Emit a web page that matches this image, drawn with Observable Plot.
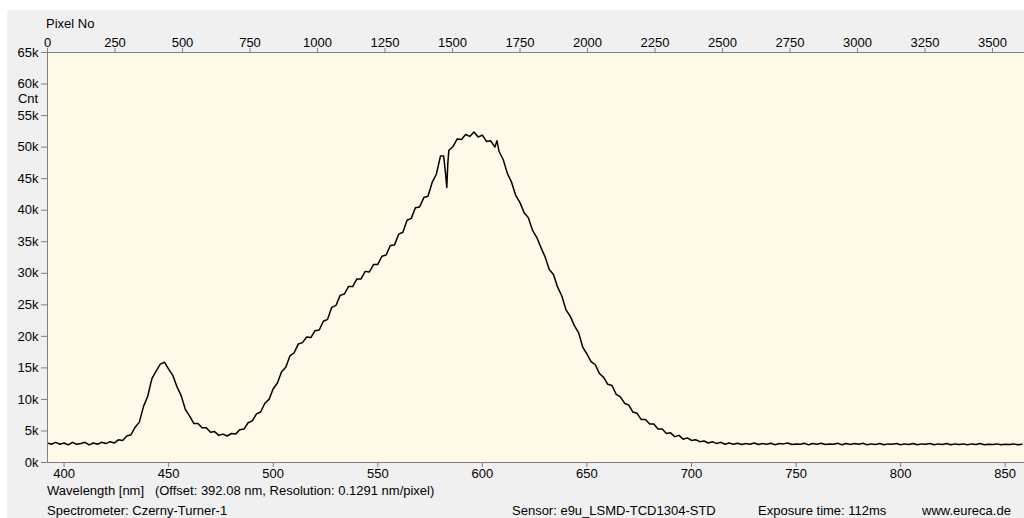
<!DOCTYPE html>
<html>
<head>
<meta charset="utf-8">
<script src="https://cdn.jsdelivr.net/npm/d3@7"></script>
<script src="https://cdn.jsdelivr.net/npm/@observablehq/plot@0.6"></script>
<style>
  html, body { margin: 0; padding: 0; background: #ffffff; }
  body { width: 1024px; height: 518px; overflow: hidden; position: relative; font-family: "Liberation Sans", Arial, sans-serif; }
  #panel { position: absolute; left: 7px; top: 10px; width: 1017px; height: 508px; background: #f0f0f0; }
  .lbl { position: absolute; font-size: 13px; color: #000; white-space: pre; line-height: 15px; }
  svg { position: absolute; left: 0; top: 0; }
</style>
</head>
<body>
<div id="panel"></div>
<script>
// Calibration of the spectrometer
const offsetNm = 392.08;
const resolutionNm = 0.1291;

// Tick labels
const pixelTicks = [0, 250, 500, 750, 1000, 1250, 1500, 1750, 2000, 2250, 2500, 2750, 3000, 3250, 3500];
const wavelengthTicks = [400, 450, 500, 550, 600, 650, 700, 750, 800, 850];
const countTicks = [0, 5000, 10000, 15000, 20000, 25000, 30000, 35000, 40000, 45000, 50000, 55000, 60000, 65000];

// Spectrum (wavelength in nm, counts in thousands)
const wavelengthNm = [
  392, 394, 396, 398, 400, 402, 404, 406, 408, 410, 412, 414, 416, 418, 420, 422, 424, 426, 428, 430,
  432, 434, 436, 438, 440, 442, 444, 446, 448, 450, 452, 454, 456, 458, 460, 462, 464, 466, 468, 470,
  472, 474, 476, 478, 480, 482, 484, 486, 488, 490, 492, 494, 496, 498, 500, 502, 504, 506, 508, 510,
  512, 514, 516, 518, 520, 522, 524, 526, 528, 530, 532, 534, 536, 538, 540, 542, 544, 546, 548, 550,
  552, 554, 556, 558, 560, 562, 564, 566, 568, 570, 572, 574, 576, 578, 580, 581.5, 582.5, 583, 583.5, 584,
  586, 588, 590, 592, 594, 596, 598, 600, 602, 604, 606, 607, 608, 610, 612, 614, 616, 618, 620, 622,
  624, 626, 628, 630, 632, 634, 636, 638, 640, 642, 644, 646, 648, 650, 652, 654, 656, 658, 660, 662,
  664, 666, 668, 670, 672, 674, 676, 678, 680, 682, 684, 686, 688, 690, 692, 694, 696, 698, 700, 702,
  704, 706, 708, 710, 712, 714, 716, 718, 720, 722, 724, 726, 728, 730, 732, 734, 736, 738, 740, 742,
  744, 746, 748, 750, 752, 754, 756, 758, 760, 762, 764, 766, 768, 770, 772, 774, 776, 778, 780, 782,
  784, 786, 788, 790, 792, 794, 796, 798, 800, 802, 804, 806, 808, 810, 812, 814, 816, 818, 820, 822,
  824, 826, 828, 830, 832, 834, 836, 838, 840, 842, 844, 846, 848, 850, 852, 854, 856, 858
];
const countsK = [
  3.1, 2.9, 3.2, 2.9, 3.1, 2.8, 3.2, 2.9, 3.0, 3.2, 2.8, 3.1, 2.9, 3.2, 3.0, 3.3, 3.1, 3.6, 3.5, 4.2,
  4.4, 5.6, 6.4, 8.9, 10.5, 13.3, 14.5, 15.6, 15.9, 14.8, 13.8, 12.0, 10.6, 8.4, 7.4, 6.2, 6.2, 5.5, 5.5, 4.8,
  4.9, 4.3, 4.5, 4.2, 4.6, 4.5, 5.2, 5.3, 6.3, 6.6, 7.7, 8.0, 9.4, 10.0, 11.7, 12.6, 14.4, 15.1, 16.9, 17.4,
  18.8, 19.0, 19.9, 19.8, 20.9, 21.0, 22.4, 22.7, 24.6, 24.9, 26.5, 26.7, 27.9, 27.9, 29.1, 29.1, 30.3, 30.2, 31.4, 31.4,
  32.7, 32.9, 34.4, 34.5, 36.2, 36.5, 38.4, 38.7, 40.4, 40.5, 42.0, 42.2, 44.4, 45.7, 48.6, 48.6, 45.5, 43.6, 47.5, 49.5,
  50.1, 51.3, 51.2, 52.0, 51.7, 52.4, 51.6, 51.9, 50.9, 51.0, 50.0, 51.0, 49.3, 48.0, 45.8, 44.4, 42.3, 41.2, 39.6, 38.8,
  36.8, 35.7, 34.1, 32.6, 30.6, 29.8, 27.8, 26.4, 24.2, 23.2, 21.7, 20.6, 18.3, 17.2, 16.0, 15.5, 14.1, 13.5, 12.4, 12.2,
  10.8, 10.4, 9.4, 9.1, 8.0, 7.8, 6.8, 6.8, 6.1, 6.1, 5.3, 5.3, 4.6, 4.7, 4.1, 4.3, 3.7, 3.9, 3.5, 3.6,
  3.3, 3.4, 3.1, 3.3, 3.0, 3.2, 2.9, 3.1, 2.9, 3.05, 2.85, 3.0, 2.9, 3.1, 2.85, 3.0, 2.9, 3.05, 2.8, 3.0,
  2.95, 3.1, 2.85, 2.95, 2.9, 3.05, 2.8, 3.0, 2.9, 3.05, 2.85, 2.95, 2.9, 3.05, 2.8, 3.0, 2.85, 3.0, 2.9, 3.05,
  2.8, 2.95, 2.85, 3.0, 2.8, 2.95, 2.9, 3.0, 2.8, 2.95, 2.85, 3.0, 2.8, 2.95, 2.9, 3.0, 2.8, 2.95, 2.85, 3.0,
  2.8, 2.95, 2.85, 2.95, 2.8, 2.95, 2.85, 3.0, 2.8, 2.9, 2.85, 2.95, 2.8, 2.9, 2.85, 2.95, 2.8, 2.9
];

const spectrum = wavelengthNm.map((w, i) => ({ nm: w, counts: countsK[i] * 1000 }));
const pixelToNm = p => offsetNm + resolutionNm * p;

const W = 1017, H = 470;
const mLeft = 40, mTop = 42, mBottom = H - (462 - 10);
const xMax = pixelToNm((W - mLeft) / 0.27);

const axisGray = "#7f7f7f";
const chart = Plot.plot({
  width: W,
  height: H,
  marginLeft: mLeft,
  marginRight: 0,
  marginTop: mTop,
  marginBottom: mBottom,
  style: { background: "transparent", fontFamily: "Liberation Sans, Arial, sans-serif", fontSize: "13px", color: "#000" },
  x: { type: "linear", domain: [offsetNm, xMax] },
  y: { type: "linear", domain: [0, 65000] },
  marks: [
    Plot.frame({ fill: "#fff9e7", stroke: null }),
    Plot.axisX({ anchor: "bottom", ticks: wavelengthTicks, tickFormat: d => String(d), tickSize: 5, tickPadding: 1, stroke: axisGray, fill: "#000", label: null, fontSize: 13 }),
    Plot.axisX({ anchor: "top", ticks: pixelTicks.map(pixelToNm), tickFormat: (d, i) => String(pixelTicks[i]), tickSize: 5, tickPadding: 1, stroke: axisGray, fill: "#000", label: null, fontSize: 13 }),
    Plot.axisY({ anchor: "left", ticks: countTicks, tickFormat: d => (d / 1000) + "k", tickSize: 6, tickPadding: 3, stroke: axisGray, fill: "#000", label: null, fontSize: 13 }),
    Plot.line(spectrum, { x: "nm", y: "counts", stroke: "#000", strokeWidth: 1.5, clip: true }),
    Plot.ruleY([0, 65000], { stroke: axisGray }),
    Plot.ruleX([offsetNm], { stroke: axisGray })
  ]
});

const panel = document.getElementById("panel");
panel.appendChild(chart);

const labels = [
  { t: "Pixel No", x: 39, y: 6, anchor: "left" },
  { t: "Cnt", x: 21, y: 81, anchor: "center" },
  { t: "Wavelength [nm]   (Offset: 392.08 nm, Resolution: 0.1291 nm/pixel)", x: 40, y: 473, anchor: "left" },
  { t: "Spectrometer: Czerny-Turner-1", x: 40, y: 493, anchor: "left" },
  { t: "Sensor: e9u_LSMD-TCD1304-STD", x: 505, y: 493, anchor: "left" },
  { t: "Exposure time: 112ms", x: 751, y: 493, anchor: "left" },
  { t: "www.eureca.de", x: 915, y: 493, anchor: "left" }
];
for (const l of labels) {
  const s = document.createElement("div");
  s.className = "lbl";
  s.textContent = l.t;
  s.style.top = l.y + "px";
  if (l.anchor === "center") { s.style.left = (l.x - 20) + "px"; s.style.width = "40px"; s.style.textAlign = "center"; }
  else s.style.left = l.x + "px";
  panel.appendChild(s);
}
</script>
</body>
</html>
